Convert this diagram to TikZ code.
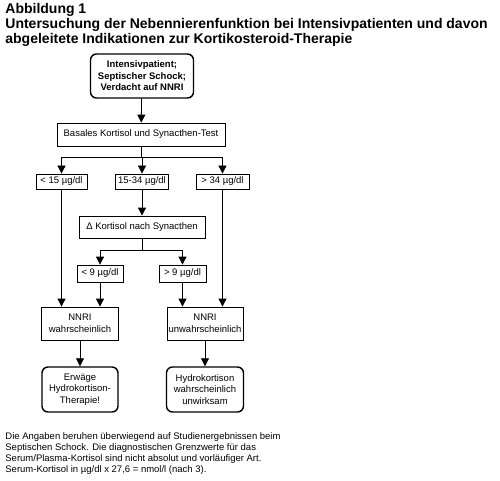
\documentclass[tikz,border=0pt]{standalone}
\usepackage{fontspec}
\setmainfont{Liberation Sans}
\usetikzlibrary{arrows.meta}

\begin{document}
\begin{tikzpicture}[x=1pt, y=-1pt, >={Triangle[width=8pt,length=8pt]}, line width=0.8pt,
	box/.style={draw, rectangle, inner sep=0pt, align=center, font=\fontsize{9.5}{11.5}\selectfont},
	endbox/.style={box, rounded corners=6pt, line width=1.4pt},
	note/.style={anchor=north west, inner sep=0pt, align=left}]

		\useasboundingbox (0,0) rectangle (500,481);

		\node[note, font=\bfseries\fontsize{14}{15}\selectfont] (title) at (5,3)
			{Abbildung 1\\Untersuchung der Nebennierenfunktion bei Intensivpatienten und davon\\abgeleitete Indikationen zur Kortikosteroid-Therapie};

		\node[endbox, font=\bfseries\fontsize{9.5}{11.5}\selectfont, minimum width=103pt, minimum height=44pt] (start) at (142,76)
			{Intensivpatient;\\Septischer Schock;\\Verdacht auf NNRI};
		\node[box, minimum width=168pt, minimum height=23pt] (basal) at (141,134.5) {Basales Kortisol und Synacthen-Test};
		\node[box, minimum width=51pt, minimum height=15pt] (low) at (61.5,181.5) {< 15 µg/dl};
		\node[box, minimum width=53pt, minimum height=15pt] (mid) at (142,181.5) {15-34 µg/dl};
		\node[box, minimum width=53pt, minimum height=15pt] (high) at (222.5,181.5) {> 34 µg/dl};
		\node[box, minimum width=126pt, minimum height=22pt] (delta) at (142,227) {Δ Kortisol nach Synacthen};
		\node[box, minimum width=46pt, minimum height=17pt] (lt9) at (100,273.5) {< 9 µg/dl};
		\node[box, minimum width=47pt, minimum height=17pt] (gt9) at (182.5,273.5) {> 9 µg/dl};
		\node[box, minimum width=77pt, minimum height=33pt] (nnri) at (80,323.5) {NNRI\\wahrscheinlich};
		\node[box, minimum width=76pt, minimum height=33pt] (nnru) at (205,323.5) {NNRI\\unwahrscheinlich};
		\node[endbox, minimum width=76pt, minimum height=45pt] (erw) at (80,389.5) {Erwäge\\Hydrokortison-\\Therapie!};
		\node[endbox, minimum width=77pt, minimum height=45pt] (hydro) at (205,389.5) {Hydrokortison\\wahrscheinlich\\unwirksam};

		\coordinate (fork1) at (141,157);
		\coordinate (fork2) at (142,250);

		\node[note, font=\fontsize{9.5}{11}\selectfont] (foot) at (5,432)
			{Die Angaben beruhen überwiegend auf Studienergebnissen beim\\Septischen Schock. Die diagnostischen Grenzwerte für das\\Serum/Plasma-Kortisol sind nicht absolut und vorläufiger Art.\\Serum-Kortisol in µg/dl x 27,6 = nmol/l (nach 3).};

		\path[->]
		(start) edge (basal)
		(mid)   edge (delta)
		(nnri)  edge (erw)
		(nnru)  edge (hydro);

		\draw (basal) -- (fork1);
		\draw[->] (fork1) -| (low);
		\draw[->] (fork1) -| (mid);
		\draw[->] (fork1) -| (high);
		\draw (delta) -- (fork2);
		\draw[->] (fork2) -| (lt9);
		\draw[->] (fork2) -| (gt9);

		\draw[->] (low) -- (low |- nnri.north);
		\draw[->] (lt9) -- (lt9 |- nnri.north);
		\draw[->] (gt9) -- (gt9 |- nnru.north);
		\draw[->] (high) -- (high |- nnru.north);

\end{tikzpicture}
\end{document}
